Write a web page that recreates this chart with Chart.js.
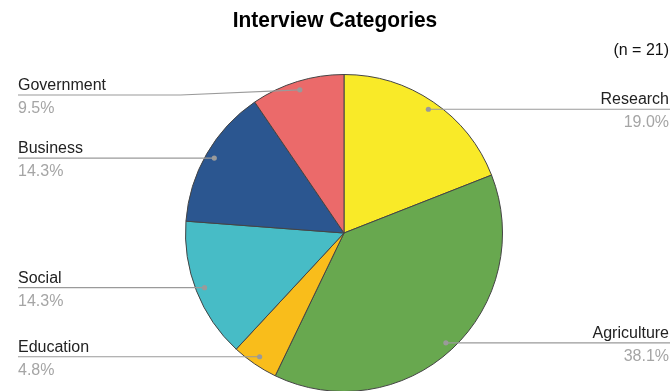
<!DOCTYPE html>
<html><head><meta charset="utf-8">
<script src="https://cdn.jsdelivr.net/npm/chart.js@4/dist/chart.umd.min.js"></script>
<style>html,body{margin:0;padding:0;overflow:hidden;background:#fff}#wrap{width:670px;height:400px}</style>
</head><body><div id="wrap"><canvas id="c" width="670" height="400"></canvas></div>
<script>
const title = "Interview Categories";
const subtitle = "(n = 21)";
const categories = ["Research", "Agriculture", "Education", "Social", "Business", "Government"];
const counts = [4, 8, 1, 3, 3, 2];
const colors = ["#f9ea28", "#68a84f", "#f9bd1b", "#47bcc6", "#2b5690", "#eb6a6a"];

const FONT = "'Liberation Sans', Arial, sans-serif";

const labelPlugin = {
  id: 'labels',
  afterDraw(chart) {
    const ctx = chart.ctx;
    const meta = chart.getDatasetMeta(0);
    const total = counts.reduce((a, b) => a + b, 0);
    ctx.save();
    ctx.fillStyle = '#000';
    ctx.font = "bold 22px " + FONT;
    ctx.textAlign = 'center';
    ctx.textBaseline = 'alphabetic';
    ctx.save();
    ctx.translate(335, 27);
    ctx.scale(0.95, 1);
    ctx.fillText(title, 0, 0);
    ctx.restore();
    ctx.font = "16px " + FONT;
    ctx.textAlign = 'right';
    ctx.fillStyle = '#111';
    ctx.fillText(subtitle, 669, 55);

    meta.data.forEach((arc, i) => {
      const p = arc.getProps(['x', 'y', 'startAngle', 'endAngle', 'outerRadius'], true);
      const mid = (p.startAngle + p.endAngle) / 2;
      const d = p.outerRadius * 0.945;
      const dx = p.x + Math.cos(mid) * d;
      const dy = p.y + Math.sin(mid) * d;
      const right = dx > p.x;
      const lineY = Math.max(dy, 95);
      ctx.strokeStyle = '#9a9a9a';
      ctx.lineWidth = 1.2;
      ctx.beginPath();
      ctx.moveTo(dx, dy);
      if (right) {
        ctx.lineTo(670, lineY);
      } else {
        if (lineY !== dy) ctx.lineTo(p.x - p.outerRadius - 5, lineY);
        ctx.lineTo(18, lineY);
      }
      ctx.stroke();
      ctx.fillStyle = '#9a9a9a';
      ctx.beginPath();
      ctx.arc(dx, dy, 2.6, 0, Math.PI * 2);
      ctx.fill();
      const pct = (counts[i] / total * 100).toFixed(1) + '%';
      ctx.font = "16px " + FONT;
      ctx.textAlign = right ? 'right' : 'left';
      const tx = right ? 669 : 18;
      ctx.fillStyle = '#222';
      ctx.fillText(categories[i], tx, lineY - 5);
      ctx.fillStyle = '#a5a5a5';
      ctx.fillText(pct, tx, lineY + 18);
    });
    ctx.restore();
  }
};

new Chart(document.getElementById('c'), {
  type: 'pie',
  data: {
    labels: categories,
    datasets: [{
      data: counts,
      backgroundColor: colors,
      borderColor: '#444',
      borderWidth: 1
    }]
  },
  options: {
    responsive: false,
    animation: false,
    layout: { padding: { left: 185, right: 167, top: 74, bottom: 8 } },
    plugins: { legend: { display: false }, tooltip: { enabled: false }, title: { display: false } }
  },
  plugins: [labelPlugin]
});
</script></body></html>
